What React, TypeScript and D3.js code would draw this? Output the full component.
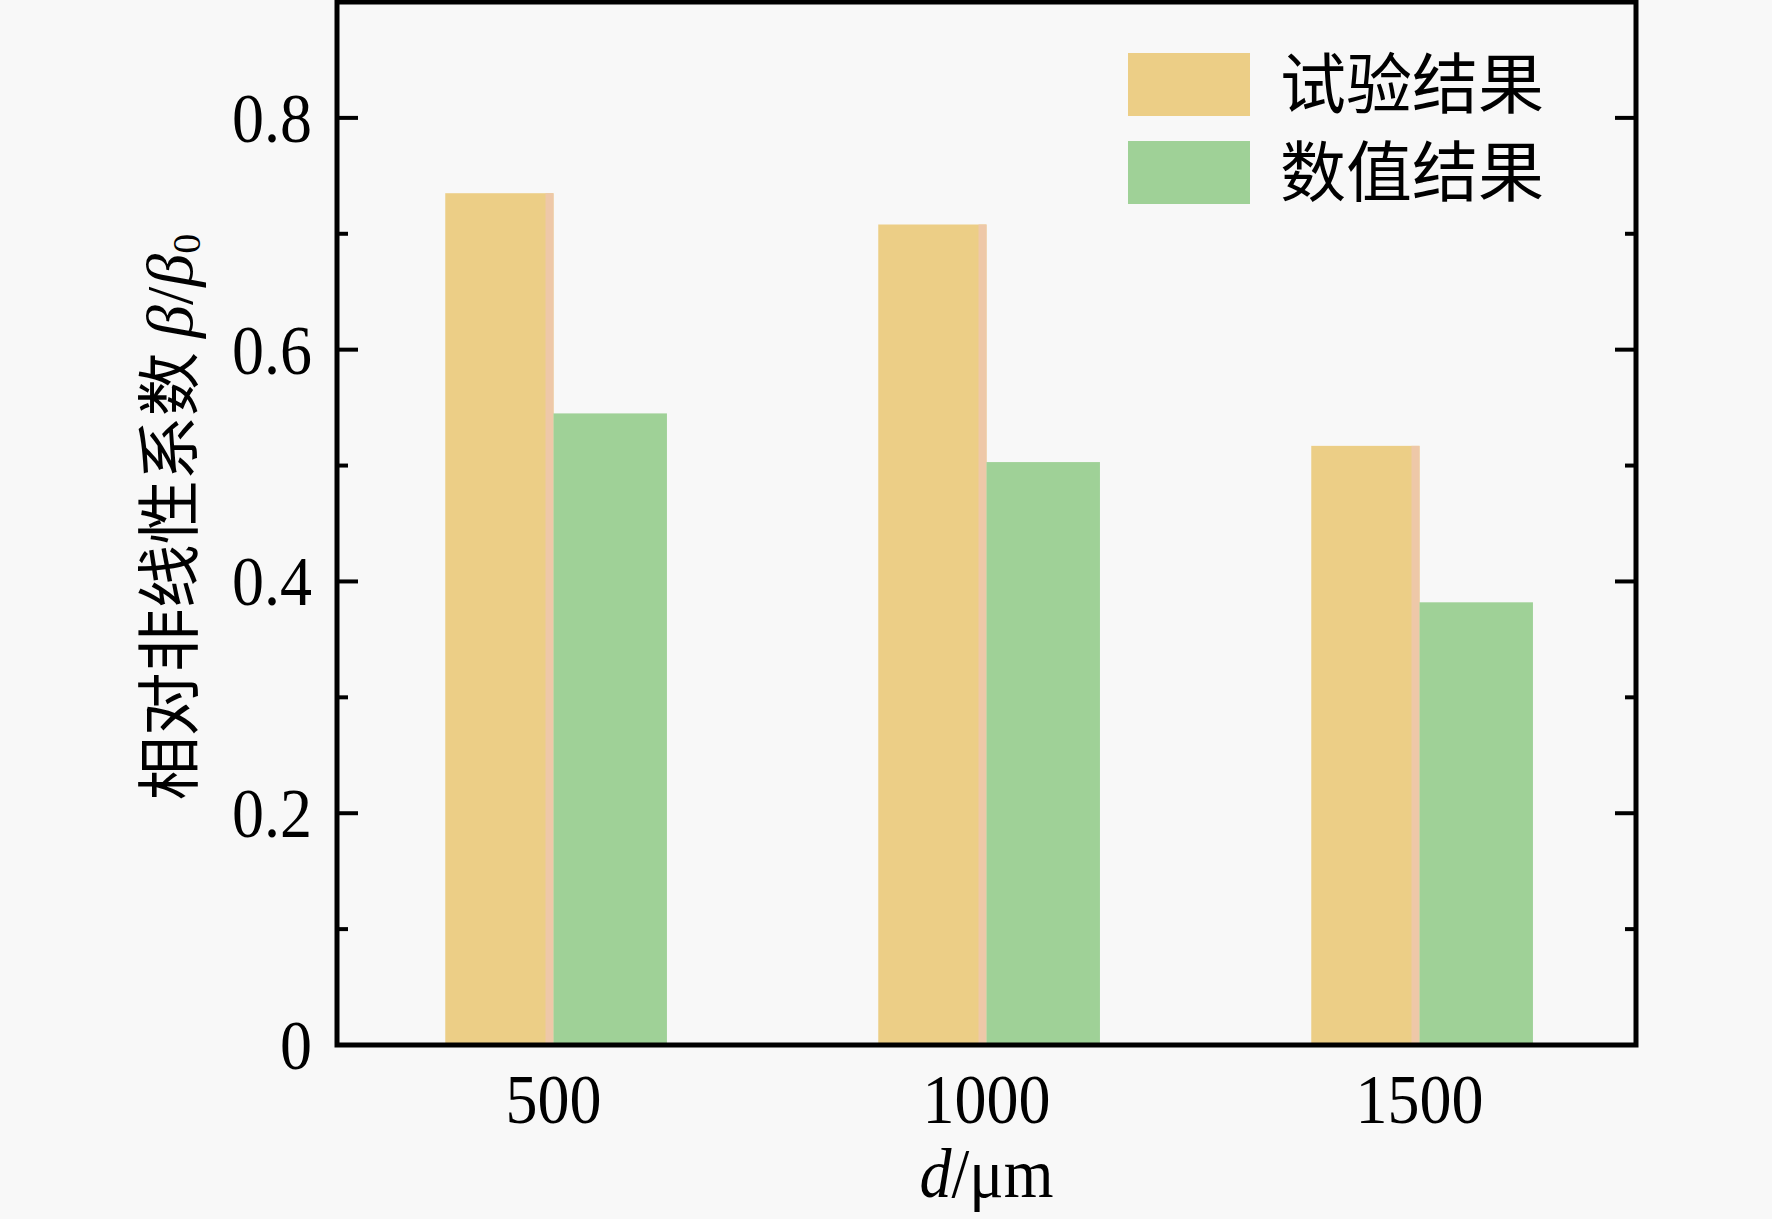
import React from "react";
import * as d3 from "d3";

const categories = [500, 1000, 1500];
const experimental = [0.735, 0.708, 0.517];
const numerical = [0.545, 0.503, 0.382];
const yMajorTicks = [0, 0.2, 0.4, 0.6, 0.8];
const yMinorTicks = [0.1, 0.3, 0.5, 0.7];
const legendLabels = ["试验结果", "数值结果"];

const W = 1772;
const H = 1219;
const left = 337;
const right = 1636;
const top = 2;
const bottom = 1045;

const ORANGE = "#ECCE86";
const GREEN = "#9FD197";
const SERIF = "'Liberation Serif', 'Times New Roman', serif";
const CJK = "'Noto Sans CJK SC', sans-serif";

export default function App() {
  const x = d3.scaleLinear().domain([250, 1750]).range([left, right]);
  const y = d3.scaleLinear().domain([0, 0.9]).range([bottom, top]);
  const unit = x(1) - x(0);
  const wOrange = 125 * unit;
  const wGreen = 131 * unit;
  const fmt = (d: number) => (d === 0 ? "0" : d.toFixed(1));

  return (
    <svg
      width={W}
      height={H}
      style={{ position: "absolute", left: 0, top: 0, background: "#f8f8f8" }}
    >
      <rect x={0} y={0} width={W} height={H} fill="#f8f8f8" />
      {/* bars */}
      {categories.map((c, i) => (
        <g key={c}>
          <rect
            x={x(c) - wOrange}
            y={y(experimental[i])}
            width={wOrange}
            height={y(0) - y(experimental[i])}
            fill={ORANGE}
          />
          <rect
            x={x(c) - 8}
            y={y(experimental[i])}
            width={8}
            height={y(0) - y(experimental[i])}
            fill="#EEC8A8"
          />
          <rect
            x={x(c)}
            y={y(numerical[i])}
            width={wGreen}
            height={y(0) - y(numerical[i])}
            fill={GREEN}
          />
        </g>
      ))}
      {/* frame */}
      <rect
        x={left}
        y={top}
        width={right - left}
        height={bottom - top}
        fill="none"
        stroke="#000"
        strokeWidth={5}
      />
      {/* ticks */}
      {yMajorTicks.map((t) => (
        <g key={"M" + t}>
          <line x1={left} x2={left + 21} y1={y(t)} y2={y(t)} stroke="#000" strokeWidth={4} />
          <line x1={right} x2={right - 21} y1={y(t)} y2={y(t)} stroke="#000" strokeWidth={4} />
          <text
            transform={`translate(312, ${y(t) + 24}) scale(1, 1.1)`}
            textAnchor="end"
            fontFamily={SERIF}
            fontSize={64}
            fill="#000"
          >
            {fmt(t)}
          </text>
        </g>
      ))}
      {yMinorTicks.map((t) => (
        <g key={"m" + t}>
          <line x1={left} x2={left + 11} y1={y(t)} y2={y(t)} stroke="#000" strokeWidth={4} />
          <line x1={right} x2={right - 11} y1={y(t)} y2={y(t)} stroke="#000" strokeWidth={4} />
        </g>
      ))}
      {/* x tick labels */}
      {categories.map((c) => (
        <text
          key={"xl" + c}
          transform={`translate(${x(c)}, 1123) scale(1, 1.1)`}
          textAnchor="middle"
          fontFamily={SERIF}
          fontSize={64}
          fill="#000"
        >
          {c}
        </text>
      ))}
      {/* x title */}
      <text
        transform={`translate(${(left + right) / 2}, 1197) scale(1, 1.1)`}
        textAnchor="middle"
        fontFamily={SERIF}
        fontSize={64}
        fill="#000"
      >
        <tspan fontStyle="italic">d</tspan>
        <tspan>/μm</tspan>
      </text>
      {/* y title */}
      <text
        transform={`translate(192, 517) rotate(-90)`}
        textAnchor="middle"
        fill="#000"
        fontSize={64}
      >
        <tspan fontFamily={CJK}>相对非线性系数 </tspan>
        <tspan fontFamily={SERIF} fontStyle="italic" fontSize={66}>β</tspan>
        <tspan fontFamily={SERIF} fontSize={66}>/</tspan>
        <tspan fontFamily={SERIF} fontStyle="italic" fontSize={66}>β</tspan>
        <tspan fontFamily={SERIF} fontSize={40} dy={8}>0</tspan>
      </text>
      {/* legend */}
      {legendLabels.map((l, i) => (
        <g key={l}>
          <rect
            x={1128}
            y={53 + i * 88}
            width={122}
            height={63}
            fill={i === 0 ? ORANGE : GREEN}
          />
          <text
            x={1280}
            y={85 + i * 88 + 23}
            fontFamily={CJK}
            fontSize={66}
            fill="#000"
          >
            {l}
          </text>
        </g>
      ))}
    </svg>
  );
}
